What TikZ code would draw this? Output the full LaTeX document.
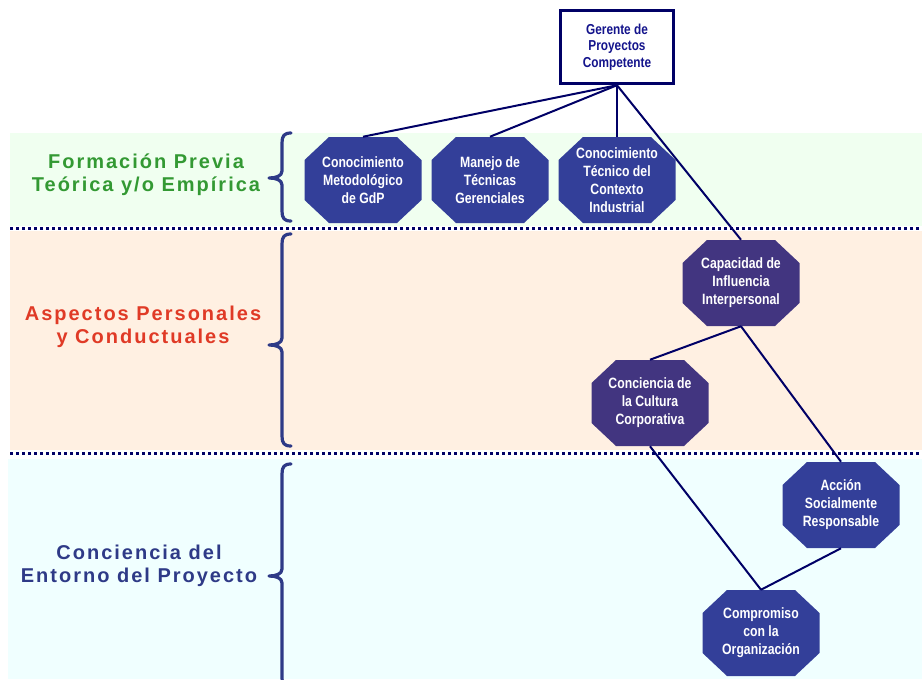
\documentclass[tikz,border=0pt]{standalone}
\usepackage{fontspec}
\setmainfont{Liberation Sans}
\newfontfamily\labfont{Liberation Sans}[LetterSpace=10]
\newfontfamily\octfont{Liberation Sans}[FakeStretch=0.82]
\definecolor{bandgreen}{HTML}{F0FFF0}
\definecolor{bandpeach}{HTML}{FFF0E2}
\definecolor{bandcyan}{HTML}{F0FFFF}
\definecolor{navy}{HTML}{000066}
\definecolor{bracecol}{HTML}{2E3A87}
\definecolor{octblue}{HTML}{333F99}
\definecolor{octpurple}{HTML}{423580}
\definecolor{labgreen}{HTML}{339933}
\definecolor{labred}{HTML}{E03A26}
\definecolor{labnavy}{HTML}{2E3A87}
\definecolor{gertext}{HTML}{14148C}
\tikzset{
  octtext/.style={rectangle, minimum width=87.75pt, minimum height=64.5pt, inner sep=0pt,
    text=white, align=center, font=\octfont\bfseries\fontsize{11.2}{13.5}\selectfont},
  conn/.style={draw=navy, line width=1.5pt},
  dotline/.style={draw=navy, line width=2.25pt, dash pattern=on 2.25pt off 2.25pt},
  bracestyle/.style={draw=bracecol, line width=2.4pt, line cap=round, line join=round},
  catlabel/.style={align=center, font=\labfont\bfseries\fontsize{15}{17.6}\selectfont},
  gerbox/.style={rectangle, draw=navy, fill=white, line width=2.6pt, minimum width=84.75pt, minimum height=54.75pt,
    inner sep=0pt, align=center, text=gertext, font=\octfont\bfseries\fontsize{10.8}{12.4}\selectfont}
}
\newcommand\octo[5]{%
  \fill[#4] (#2-34,#3-43) -- (#2+34,#3-43) -- (#2+58.5,#3-20) -- (#2+58.5,#3+20) -- (#2+34,#3+43)
     -- (#2-34,#3+43) -- (#2-58.5,#3+20) -- (#2-58.5,#3-20) -- cycle;
  \node[octtext] (#1) at (#2,#3) {#5};}
\newcommand\cbrace[3]{%
  \draw[bracestyle] (291,#1) .. controls (284,#1) and (282,#1+3) .. (282,#1+10)
    -- (282,#2-7) .. controls (282,#2-2) and (276,#2) .. (269,#2)
    .. controls (276,#2) and (282,#2+2) .. (282,#2+7)
    -- (282,#3-10) .. controls (282,#3-3) and (284,#3) .. (291,#3);}
\begin{document}
\begin{tikzpicture}[x=0.75pt,y=-0.75pt]
\useasboundingbox (0,0) rectangle (922,679);
% bands
\fill[bandgreen] (10,133) rectangle (922,226);
\fill[bandpeach] (10,231) rectangle (922,450);
\fill[bandcyan] (8,459) rectangle (922,679);
\draw[dotline] (10,228.5) -- (922,228.5);
\draw[dotline] (10,453.5) -- (922,453.5);
% braces
\cbrace{133}{178}{221}
\cbrace{234}{345}{446}
\cbrace{464}{576}{688}
% category labels
\node[catlabel, text=labgreen] (labA) at (146,175) {Formación Previa\\Teórica y/o Empírica};
\node[catlabel, text=labred] (labB) at (143,327) {Aspectos Personales\\y Conductuales};
\node[catlabel, text=labnavy] (labC) at (139,566) {Conciencia del\\Entorno del Proyecto};
% octagons
\octo{metod}{363}{180}{octblue}{Conocimiento\\Metodológico\\de GdP}
\octo{manejo}{490}{180}{octblue}{Manejo de\\Técnicas\\Gerenciales}
\octo{tecnico}{617}{180}{octblue}{Conocimiento\\Técnico del\\Contexto\\Industrial}
\octo{capac}{741}{283}{octpurple}{Capacidad de\\Influencia\\Interpersonal}
\octo{cultura}{650}{403}{octpurple}{Conciencia de\\la Cultura\\Corporativa}
\octo{accion}{841}{505}{octblue}{Acción\\Socialmente\\Responsable}
\octo{compro}{761}{633}{octblue}{Compromiso\\con la\\Organización}
% top box
\node[gerbox] (gerente) at (617,47) {Gerente de\\Proyectos\\Competente};
% connectors
\draw[conn] (gerente.south) -- (metod.north);
\draw[conn] (gerente.south) -- (manejo.north);
\draw[conn] (gerente.south) -- (tecnico.north);
\draw[conn] (gerente.south) -- (capac.north);
\draw[conn] (capac.south) -- (cultura.north);
\draw[conn] (capac.south) -- (accion.north);
\draw[conn] (compro.north) -- (accion.south);
\draw[conn] (compro.north) -- (cultura.south);
\end{tikzpicture}
\end{document}
